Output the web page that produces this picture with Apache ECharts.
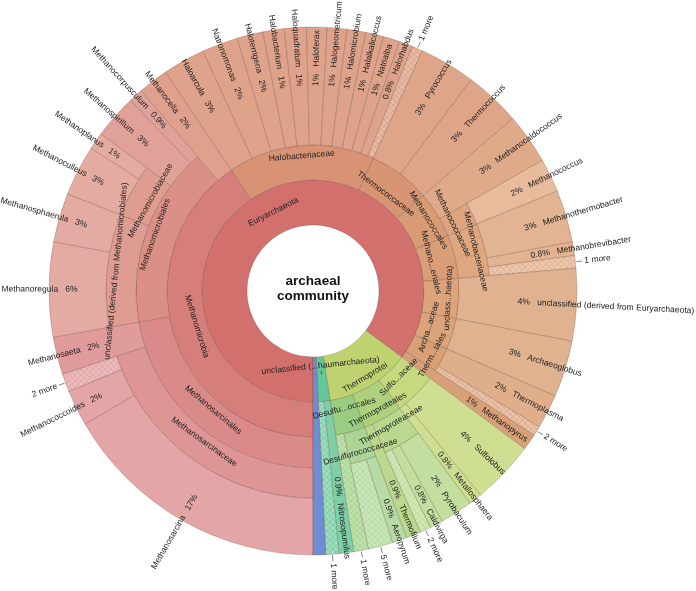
<!DOCTYPE html>
<html>
<head>
<meta charset="utf-8">
<title>archaeal community</title>
<script src="https://cdn.jsdelivr.net/npm/echarts@6/dist/echarts.min.js"></script>
<style>
    html, body { margin: 0; padding: 0; background: #fff; }
    #krona { width: 696px; height: 591px; }
</style>
</head>
<body>
<div id="krona"></div>
<script>
// leaves in clockwise order starting at 6 o'clock, lineage below the root
const leafPaths = [
    'Euryarchaeota/Methanomicrobia/Methanosarcinales/Methanosarcinaceae/Methanosarcina',
    'Euryarchaeota/Methanomicrobia/Methanosarcinales/Methanosarcinaceae/Methanococcoides',
    'Euryarchaeota/Methanomicrobia/Methanosarcinales/Methanosarcinaceae/2 more',
    'Euryarchaeota/Methanomicrobia/Methanosarcinales/Methanosaeta',
    'Euryarchaeota/Methanomicrobia/Methanomicrobiales/unclassified (derived from Methanomicrobiales)/Methanoregula',
    'Euryarchaeota/Methanomicrobia/Methanomicrobiales/unclassified (derived from Methanomicrobiales)/Methanosphaerula',
    'Euryarchaeota/Methanomicrobia/Methanomicrobiales/Methanomicrobiaceae/Methanoculleus',
    'Euryarchaeota/Methanomicrobia/Methanomicrobiales/Methanomicrobiaceae/Methanoplanus',
    'Euryarchaeota/Methanomicrobia/Methanomicrobiales/Methanospirillum',
    'Euryarchaeota/Methanomicrobia/Methanomicrobiales/Methanocorpusculum',
    'Euryarchaeota/Methanomicrobia/Methanocella',
    'Euryarchaeota/Halobacteriaceae/Haloarcula',
    'Euryarchaeota/Halobacteriaceae/Natronomonas',
    'Euryarchaeota/Halobacteriaceae/Haloterrigena',
    'Euryarchaeota/Halobacteriaceae/Halobacterium',
    'Euryarchaeota/Halobacteriaceae/Haloquadratum',
    'Euryarchaeota/Halobacteriaceae/Haloferax',
    'Euryarchaeota/Halobacteriaceae/Halogeometricum',
    'Euryarchaeota/Halobacteriaceae/Halomicrobium',
    'Euryarchaeota/Halobacteriaceae/Halalkalicoccus',
    'Euryarchaeota/Halobacteriaceae/Natrialba',
    'Euryarchaeota/Halobacteriaceae/Halorhabdus',
    'Euryarchaeota/Halobacteriaceae/1 more',
    'Euryarchaeota/Thermococcaceae/Pyrococcus',
    'Euryarchaeota/Thermococcaceae/Thermococcus',
    'Euryarchaeota/Methanococcales/Methanocaldococcus',
    'Euryarchaeota/Methanococcales/Methanococcaceae/Methanococcus',
    'Euryarchaeota/Methanobacteriales/Methanobacteriaceae/Methanothermobacter',
    'Euryarchaeota/Methanobacteriales/Methanobacteriaceae/Methanobrevibacter',
    'Euryarchaeota/Methanobacteriales/Methanobacteriaceae/1 more',
    'Euryarchaeota/unclassified (derived from Euryarchaeota)/unclassified (derived from Euryarchaeota)',
    'Euryarchaeota/Archaeoglobaceae/Archaeoglobus',
    'Euryarchaeota/Thermoplasmatales/Thermoplasma',
    'Euryarchaeota/Thermoplasmatales/2 more',
    'Euryarchaeota/Methanopyrus',
    'Thermoprotei/Sulfolobaceae/Sulfolobus',
    'Thermoprotei/Sulfolobaceae/Metallosphaera',
    'Thermoprotei/Thermoproteales/Thermoproteaceae/Pyrobaculum',
    'Thermoprotei/Thermoproteales/Thermoproteaceae/Caldivirga',
    'Thermoprotei/Thermoproteales/Thermoproteaceae/2 more',
    'Thermoprotei/Thermoproteales/Thermofilum',
    'Thermoprotei/Desulfurococcales/Desulfurococcaceae/Aeropyrum',
    'Thermoprotei/Desulfurococcales/Desulfurococcaceae/5 more',
    'Thermoprotei/Desulfurococcales/1 more',
    'unclassified (derived from Thaumarchaeota)/Nitrosopumilus',
    'unclassified (derived from Thaumarchaeota)/1 more',
    'other Archaea'
];
// share of reads (%), same order
const leafValues = [
    16.6, 2.2, 1.1, 2.3, 5.8, 3.0, 3.1, 1.05, 2.7, 0.86, 1.85,
    2.6, 2.2, 1.6, 1.3, 1.35, 1.25, 1.2, 1.15, 1.1, 1.0, 0.84, 0.65,
    3.43, 3.43, 3.1, 2.06, 3.2, 0.83, 0.77, 4.43, 3.45, 2.1, 0.6, 1.0,
    3.86, 0.8, 2.0, 0.8, 0.67, 0.9, 0.9, 1.5, 0.9,
    0.9, 0.8, 0.77
];
// labels krona had to shorten to fit their wedge
const shortNames = {
    'Methanobacteriales': 'Methano...eriales',
    'unclassified (derived from Euryarchaeota)': 'unclass...haeota)',
    'Archaeoglobaceae': 'Archa...aceae',
    'Thermoplasmatales': 'Therm...tales',
    'Sulfolobaceae': 'Sulfo...aceae',
    'Desulfurococcales': 'Desulfu...occales',
    'unclassified (derived from Thaumarchaeota)': 'unclassified (...haumarchaeota)'
};
const unlabeled = ['other Archaea'];

const OUTER_R = 264;
const RING_R = [66, 111, 146, 177, 207];   // inner edge of the ring for depth 1..5
const FONT = '"Liberation Sans", Arial, sans-serif';

const nodeColours = {
    'Euryarchaeota': '#d2706e',
    'Methanomicrobia': '#d67e7b',
    'Methanosarcinales': '#da8a89',
    'Methanosarcinaceae': '#de9595',
    'Methanomicrobiales': '#db9087',
    'unclassified (derived from Methanomicrobiales)': '#df9c93',
    'Methanomicrobiaceae': '#df9c90',
    'Halobacteriaceae': '#d89375',
    'Thermococcaceae': '#d89573',
    'Methanococcales': '#d99b74',
    'Methanococcaceae': '#dea47f',
    'Methanobacteriales': '#d99e75',
    'Methanobacteriaceae': '#dea780',
    'unclassified (derived from Euryarchaeota)': '#dba47b',
    'Archaeoglobaceae': '#dba47b',
    'Thermoplasmatales': '#d9a077',
    'Thermoprotei': '#bed36f',
    'Sulfolobaceae': '#c5d97f',
    'Thermoproteales': '#add27b',
    'Thermoproteaceae': '#b8d98e',
    'Desulfurococcales': '#9acd80',
    'Desulfurococcaceae': '#aad594',
    'unclassified (derived from Thaumarchaeota)': '#66c798'
};
const leafColours = {
    'Methanocella': '#e0a08e',
    'Methanopyrus': '#d7a077',
    'Methanococcus': '#e8bb9c',
    'other Archaea': '#6f8dd2'
};

function mix(hex, t) {
    const n = parseInt(hex.slice(1), 16);
    const f = v => Math.round(v + (255 - v) * t);
    return 'rgb(' + f(n >> 16) + ',' + f((n >> 8) & 255) + ',' + f(n & 255) + ')';
}
function hatch(base, line) {
    const c = document.createElement('canvas');
    c.width = c.height = 6;
    const g = c.getContext('2d');
    g.fillStyle = base;
    g.fillRect(0, 0, 6, 6);
    g.strokeStyle = line;
    g.lineWidth = 0.6;
    g.beginPath();
    g.moveTo(0, 0); g.lineTo(6, 6);
    g.moveTo(6, 0); g.lineTo(0, 6);
    g.stroke();
    return { image: c, repeat: 'repeat' };
}
const isMore = name => /^\d+ more$/.test(name);

// build the tree from the paths
const root = { name: 'archaeal community', depth: 0, children: [], value: 0 };
leafPaths.forEach(function (path, i) {
    let node = root;
    path.split('/').forEach(function (name) {
        let child = node.children.find(c => c.name === name);
        if (!child) {
            child = { name: name, depth: node.depth + 1, children: [], value: 0, parent: node };
            node.children.push(child);
        }
        child.value += leafValues[i];
        node = child;
    });
});
const TOTAL = leafValues.reduce((a, b) => a + b, 0);

// flatten, cumulative angle values, rings
const nodes = [];
const ringCount = {};
function place(node, start) {
    let a = start;
    node.children.forEach(function (ch) {
        ch.a0 = a;
        ch.a1 = a + ch.value;
        ch.leaf = ch.children.length === 0;
        ch.r0 = RING_R[ch.depth - 1];
        ch.r1 = ch.leaf ? OUTER_R : RING_R[ch.depth];
        const parentHex = node.hex || '#d2706e';
        if (!ch.leaf) {
            ch.hex = nodeColours[ch.name];
            ch.fill = ch.hex;
            ringCount[ch.depth] = (ringCount[ch.depth] || 0);
            ch.labelIdx = ringCount[ch.depth]++;
        } else if (isMore(ch.name)) {
            ch.fill = hatch(mix(parentHex, 0.35), mix(parentHex, 0.05));
        } else {
            ch.fill = leafColours[ch.name] || mix(parentHex, 0.15);
        }
        nodes.push(ch);
        place(ch, a);
        a = ch.a1;
    });
}
place(root, 0);
const rows = nodes.map((n, i) => [n.r0, n.a0, n.r1, n.a1, i]);

function angleOf(api, cs, v) {
    const p = api.coord([OUTER_R, v]);
    return Math.atan2(p[1] - cs.cy, p[0] - cs.cx);
}
function radiusOf(api, cs, r, v) {
    const p = api.coord([r, v]);
    return Math.hypot(p[0] - cs.cx, p[1] - cs.cy);
}
function pctText(v) {
    const p = v / TOTAL * 100;
    return (p >= 0.95 ? Math.round(p) : p.toFixed(1)) + '%';
}
function text(p, rot, align, str) {
    return {
        type: 'text', x: p[0], y: p[1], rotation: rot,
        style: { text: str, fill: '#222', fontSize: 8.5, fontFamily: FONT, align: align, verticalAlign: 'middle' }
    };
}

function drawSector(params, api) {
    const n = nodes[api.value(4)];
    const cs = params.coordSys;
    const s = angleOf(api, cs, n.a0);
    let e = angleOf(api, cs, n.a1);
    while (e <= s + 1e-6) e += Math.PI * 2;
    return {
        type: 'sector',
        shape: {
            cx: cs.cx, cy: cs.cy,
            r0: radiusOf(api, cs, n.r0, n.a0), r: radiusOf(api, cs, n.r1, n.a0),
            startAngle: s, endAngle: e, clockwise: true
        },
        style: { fill: n.fill, stroke: 'rgba(70,35,20,0.3)', lineWidth: 0.7 }
    };
}

function drawLabel(params, api) {
    const n = nodes[api.value(4)];
    const cs = params.coordSys;
    const out = { type: 'group', children: [] };
    if (unlabeled.indexOf(n.name) >= 0) return out;
    const mid = (n.a0 + n.a1) / 2;
    const phi = angleOf(api, cs, mid);
    const cos = Math.cos(phi), sin = Math.sin(phi);
    const right = cos >= 0;
    const radialRot = right ? -phi : Math.PI - phi;
    const radialAlign = right ? 'left' : 'right';

    if (n.leaf && isMore(n.name)) {
        const p1 = api.coord([OUTER_R + 1, mid]);
        const p2 = api.coord([OUTER_R + 7, mid]);
        out.children.push({
            type: 'line',
            shape: { x1: p1[0], y1: p1[1], x2: p2[0], y2: p2[1] },
            style: { stroke: '#666', lineWidth: 0.8 }
        });
        out.children.push(text(api.coord([OUTER_R + 9, mid]), radialRot, radialAlign, n.name));
    } else if (n.leaf) {
        const pct = pctText(n.value);
        const str = right ? pct + '   ' + n.name : n.name + '   ' + pct;
        out.children.push(text(api.coord([(n.r0 + n.r1) / 2, mid]), radialRot, radialAlign, str));
    } else {
        // tangential label, staggered between neighbours of the same ring
        const tanRot = sin < 0 ? Math.atan2(-cos, -sin) : Math.atan2(cos, sin);
        const name = shortNames[n.name] || n.name;
        let r;
        if (n.depth === 1) {
            if (n.a1 - n.a0 < 3) {
                r = n.r0 + 9;
                const t1 = api.coord([n.r0 + 14, mid]);
                const t2 = api.coord([n.r0 + 18, mid]);
                out.children.push({
                    type: 'line',
                    shape: { x1: t1[0], y1: t1[1], x2: t2[0], y2: t2[1] },
                    style: { stroke: '#444', lineWidth: 0.8 }
                });
            } else {
                r = n.r0 + (n.r1 - n.r0) * (n.labelIdx === 0 ? 0.5 : 0.78);
            }
        } else {
            r = n.r0 + (n.r1 - n.r0) * (n.labelIdx % 2 === 0 ? 0.3 : 0.7);
        }
        out.children.push(text(api.coord([r, mid]), tanRot, 'center', name));
    }
    return out;
}

const chart = echarts.init(document.getElementById('krona'));
chart.setOption({
    animation: false,
    polar: { center: [313, 291], radius: [0, OUTER_R] },
    angleAxis: { type: 'value', min: 0, max: TOTAL, startAngle: 270, clockwise: true, show: false },
    radiusAxis: { type: 'value', min: 0, max: OUTER_R, show: false },
    graphic: [{
        type: 'text',
        x: 313, y: 289,
        style: {
            text: 'archaeal\ncommunity',
            fill: '#111',
            fontSize: 13.5,
            fontWeight: 'bold',
            fontFamily: FONT,
            lineHeight: 15,
            align: 'center',
            verticalAlign: 'middle'
        }
    }],
    series: [
        {
            type: 'custom',
            coordinateSystem: 'polar',
            clip: false,
            silent: true,
            encode: { radius: 0, angle: 1 },
            data: rows,
            renderItem: drawSector
        },
        {
            type: 'custom',
            coordinateSystem: 'polar',
            clip: false,
            silent: true,
            z: 3,
            encode: { radius: 0, angle: 1 },
            data: rows,
            renderItem: drawLabel
        }
    ]
});
window.addEventListener('resize', chart.resize);
</script>
</body>
</html>
